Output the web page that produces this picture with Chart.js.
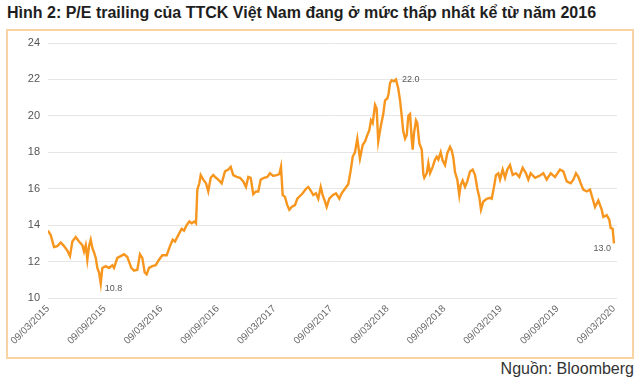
<!DOCTYPE html>
<html>
<head>
<meta charset="utf-8">
<script src="https://cdn.jsdelivr.net/npm/chart.js@4/dist/chart.umd.min.js"></script>
<style>
  html, body { margin:0; padding:0; background:#ffffff; }
  body { width:640px; height:384px; position:relative; overflow:hidden; font-family:"Liberation Sans", Arial, sans-serif; }
  #title { position:absolute; left:7px; top:4px; font-size:16px; font-weight:bold; color:#1e1e1e; white-space:nowrap; }
  #box { position:absolute; left:6px; top:29px; width:624px; height:326px; border:2px solid #fad3a3; box-sizing:content-box; }
  #src { position:absolute; right:6px; top:360px; font-size:16px; color:#333; white-space:nowrap; }
  #wrap { position:absolute; left:0; top:0; width:640px; height:384px; }
</style>
</head>
<body>
<div id="title">Hình 2: P/E trailing của TTCK Việt Nam đang ở mức thấp nhất kể từ năm 2016</div>
<div id="box"></div>
<div id="src">Nguồn: Bloomberg</div>
<div id="wrap"><canvas id="c" width="640" height="384"></canvas></div>
<script>
// Months elapsed since 09/03/2015
const months = [0,0.29,0.64,0.99,1.35,1.70,2.05,2.33,2.58,2.94,3.29,3.64,3.82,4.00,4.17,4.35,4.53,4.70,4.88,5.06,5.23,5.41,5.59,5.76,6.12,6.47,6.82,7.00,7.35,7.71,8.06,8.41,8.59,8.83,9.12,9.47,9.75,10.00,10.25,10.46,10.71,11.06,11.42,11.77,12.12,12.58,12.93,13.22,13.46,13.81,14.17,14.42,14.70,14.98,15.23,15.51,15.69,15.83,16.04,16.19,16.46,16.75,16.99,17.25,17.52,17.81,18.05,18.41,18.76,19.11,19.37,19.64,20.00,20.35,20.70,20.99,21.23,21.49,21.76,22.05,22.29,22.55,22.90,23.25,23.53,23.88,24.24,24.52,24.70,24.88,25.12,25.37,25.58,25.83,26.18,26.43,26.71,27.00,27.35,27.59,27.85,28.12,28.41,28.65,28.91,29.12,29.36,29.54,29.82,30.18,30.53,30.88,31.13,31.48,31.83,32.09,32.30,32.54,32.79,33.07,33.36,33.61,33.85,34.06,34.24,34.42,34.67,34.84,35.01,35.27,35.54,35.73,35.97,36.10,36.26,36.43,36.68,36.89,37.13,37.32,37.50,37.66,37.85,38.03,38.20,38.38,38.56,38.66,38.80,39.01,39.15,39.36,39.62,39.79,39.89,40.15,40.32,40.50,40.78,41.03,41.21,41.38,41.63,41.84,42.09,42.33,42.62,42.80,42.97,43.15,43.39,43.60,43.75,43.96,44.21,44.45,44.74,45.02,45.27,45.51,45.72,45.90,46.15,46.51,46.86,47.04,47.28,47.49,47.74,47.92,48.20,48.45,48.69,48.98,49.26,49.61,49.96,50.32,50.67,50.92,51.17,51.63,52.08,52.51,52.87,53.29,53.75,54.28,54.63,54.99,55.41,55.69,55.97,56.22,56.47,56.75,57.11,57.46,57.74,57.99,58.34,58.70,58.87,59.23,59.50,59.65,59.86,60.00];
// P/E trailing values
const peValues = [13.7,13.45,12.8,12.85,13.05,12.85,12.6,12.3,13.1,13.35,13.1,12.9,12.55,12.9,12.1,12.85,13.2,12.75,12.5,12.2,11.65,11.4,10.8,11.65,11.75,11.65,11.8,11.65,12.2,12.3,12.4,12.25,12.0,11.65,11.5,11.55,12.4,12.2,11.4,11.3,11.65,11.75,11.8,12.1,12.35,12.35,12.85,13.2,13.1,13.45,13.8,13.7,14.0,14.2,14.1,14.2,14.1,15.95,16.3,16.75,16.5,16.3,15.85,16.6,16.75,16.6,16.5,16.3,16.95,17.05,17.2,16.75,16.65,16.6,16.4,16.1,16.65,16.6,15.7,15.85,15.85,16.5,16.6,16.65,16.85,16.7,16.75,16.8,17.2,15.65,15.55,15.1,14.85,15.0,15.1,15.45,15.6,15.75,16.0,16.1,15.9,15.65,15.75,15.45,16.1,15.65,15.3,15.0,15.45,15.65,15.75,15.45,15.75,16.0,16.25,17.0,17.75,18.0,18.75,17.65,18.4,18.6,18.95,19.2,19.75,19.6,20.6,20.4,18.6,19.4,20.1,20.85,20.95,21.2,21.8,21.95,21.9,22.0,21.5,20.85,20.0,19.15,18.75,18.95,20.0,20.1,18.7,18.15,19.05,19.75,19.6,18.5,18.15,16.8,16.6,16.85,17.4,16.85,17.2,17.6,17.75,17.6,18.0,17.55,17.3,17.95,18.3,18.1,17.7,16.9,16.5,15.65,16.2,16.45,16.1,16.4,16.95,17.05,16.75,16.0,15.55,14.85,15.3,15.45,15.5,15.45,16.1,16.75,16.85,16.5,17.05,16.6,17.05,17.3,16.75,16.85,16.65,17.15,16.85,16.5,16.85,16.6,16.7,16.85,16.5,16.85,16.65,17.05,16.95,16.4,16.3,16.5,16.85,16.65,16.3,15.95,15.85,15.95,15.45,15.0,15.35,14.85,14.45,14.55,14.3,13.85,13.8,13.0];
const tickMonths = [0,6,12,18,24,30,36,42,48,54,60];
const tickLabels = ['09/03/2015','09/09/2015','09/03/2016','09/09/2016','09/03/2017','09/09/2017','09/03/2018','09/09/2018','09/03/2019','09/09/2019','09/03/2020'];
const yTicks = [10,12,14,16,18,20,22,24];

const points = months.map((m, i) => ({ x: m, y: peValues[i] }));

const annotate = {
  id: 'annotate',
  afterDatasetsDraw(chart) {
    const meta = chart.getDatasetMeta(0);
    const ctx = chart.ctx;
    let iMin = 0, iMax = 0;
    peValues.forEach((v, i) => { if (v < peValues[iMin]) iMin = i; if (v > peValues[iMax]) iMax = i; });
    const iLast = peValues.length - 1;
    ctx.save();
    ctx.font = '9px "Liberation Sans", Arial, sans-serif';
    ctx.fillStyle = '#595959';
    ctx.textBaseline = 'middle';
    let p = meta.data[iMin];
    ctx.textAlign = 'left';
    ctx.fillText(peValues[iMin].toFixed(1), p.x + 4, p.y + 5);
    p = meta.data[iMax];
    ctx.fillText(peValues[iMax].toFixed(1), p.x + 6, p.y);
    p = meta.data[iLast];
    ctx.textAlign = 'right';
    ctx.fillText(peValues[iLast].toFixed(1), p.x - 3, p.y + 5);
    ctx.restore();
  }
};

new Chart(document.getElementById('c'), {
  type: 'line',
  data: {
    datasets: [{
      data: points,
      borderColor: '#f7961e',
      borderWidth: 2.4,
      pointRadius: 0,
      tension: 0,
      fill: false
    }]
  },
  options: {
    responsive: false,
    animation: false,
    layout: { padding: { left: 0, top: 43, right: 23, bottom: 0 } },
    plugins: { legend: { display: false }, tooltip: { enabled: false } },
    scales: {
      x: {
        type: 'linear',
        min: 0,
        max: 60.32,
        afterBuildTicks: (axis) => { axis.ticks = tickMonths.map(v => ({ value: v })); },
        afterFit: (axis) => { axis.height = 86; },
        grid: { display: false, drawTicks: false },
        border: { display: false },
        ticks: {
          minRotation: 45, maxRotation: 45, autoSkip: false, padding: 5,
          color: '#666666',
          font: { size: 10, family: '"Liberation Sans", Arial, sans-serif' },
          callback: (v) => { const i = tickMonths.indexOf(v); return i >= 0 ? tickLabels[i] : ''; }
        }
      },
      y: {
        min: 10,
        max: 24,
        afterBuildTicks: (axis) => { axis.ticks = yTicks.map(v => ({ value: v })); },
        afterFit: (axis) => { axis.width = 48; },
        grid: { color: '#e6e6e6', lineWidth: 1, drawTicks: false },
        border: { display: false },
        ticks: {
          padding: 8,
          color: '#555555',
          font: { size: 11, family: '"Liberation Sans", Arial, sans-serif' }
        }
      }
    }
  },
  plugins: [annotate]
});
</script>
</body>
</html>
